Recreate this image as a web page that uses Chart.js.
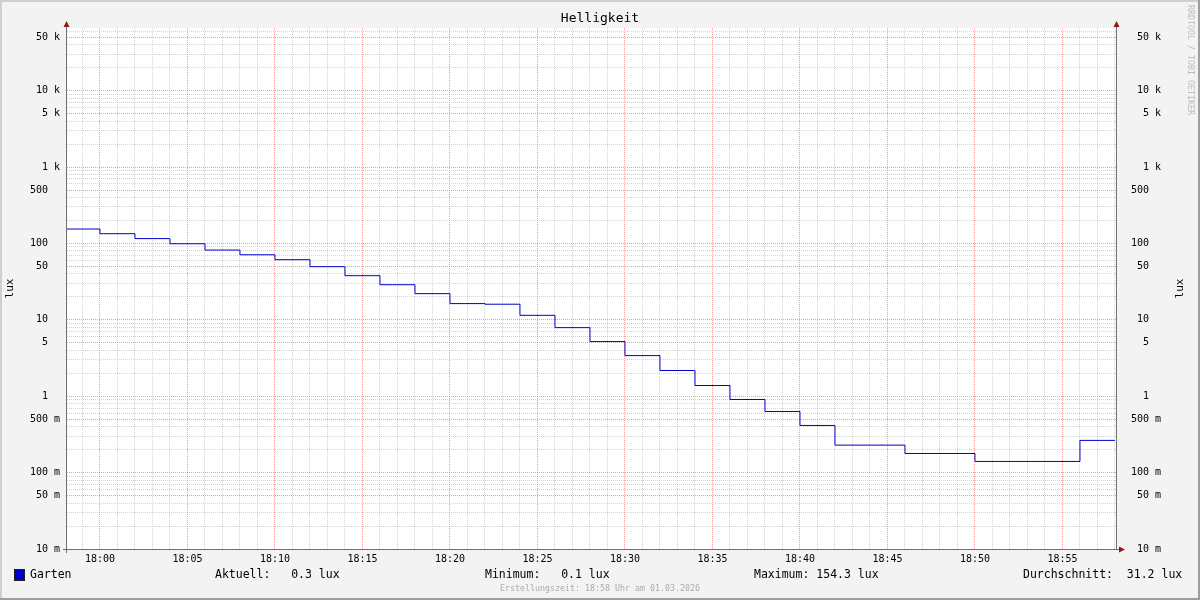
<!DOCTYPE html>
<html lang="de">
<head>
  <meta charset="UTF-8" />
  <title>Helligkeit</title>
  <script src="https://cdn.jsdelivr.net/npm/chart.js"></script>
  <style>
    html, body { margin: 0; padding: 0; background: #f3f3f3; }
    #wrap { width: 1200px; height: 600px; }
  </style>
</head>
<body>
  <div id="wrap"><canvas id="chart" width="1200" height="600"></canvas></div>

  <script>
    // Messwerte (alle 2 Minuten), letzter Wert wiederholt fuer das Stufenende
    const stepTimes = ['17:58', '18:00', '18:02', '18:04', '18:06', '18:08', '18:10', '18:12',
      '18:14', '18:16', '18:18', '18:20', '18:22', '18:24', '18:26', '18:28', '18:30', '18:32',
      '18:34', '18:36', '18:38', '18:40', '18:42', '18:44', '18:46', '18:48', '18:50', '18:52',
      '18:54', '18:56', '18:58'];
    const luxValues = [154.3, 134, 115.6, 99, 81.8, 71, 61.2, 49.6,
      37.8, 28.8, 22, 16.3, 16.0, 11.45, 7.9, 5.19, 3.4, 2.17,
      1.38, 0.906, 0.631, 0.414, 0.229, 0.229, 0.178, 0.178, 0.14, 0.14,
      0.14, 0.264, 0.264];

    const xTickLabels = ['18:00', '18:05', '18:10', '18:15', '18:20', '18:25',
      '18:30', '18:35', '18:40', '18:45', '18:50', '18:55'];
    const yTickValues = [0.01, 0.05, 0.1, 0.5, 1, 5, 10, 50, 100, 500, 1000, 5000, 10000, 50000];
    const yTickLabels = ['10 m', '50 m', '100 m', '500 m', '1', '5', '10', '50', '100', '500',
      '1 k', '5 k', '10 k', '50 k'];

    const seriesName = 'Garten';
    const statNames = ['Aktuell:', 'Minimum:', 'Maximum:', 'Durchschnitt:'];
    const statValues = [0.3, 0.1, 154.3, 31.2];
    const unit = 'lux';

    const windowStart = '17:58:07';
    const windowEnd = '18:58:07';
    const yMin = 0.01;
    const yMax = 66000;

    const MONO = "'DejaVu Sans Mono', 'Liberation Mono', monospace";
    const LINE_COLOR = '#0000cc';
    const MINOR_GRID = 'rgba(140,140,140,0.38)';
    const MAJOR_GRID = 'rgba(222,80,80,0.55)';
    const AXIS_COLOR = '#707070';
    const ARROW_COLOR = '#8b1a1a';

    const toMin = s => {
      const p = s.split(':').map(Number);
      return p[0] * 60 + p[1] + (p[2] || 0) / 60;
    };
    const fmtMin = v => {
      const h = Math.floor(v / 60), m = Math.round(v - h * 60);
      return String(h).padStart(2, '0') + ':' + String(m).padStart(2, '0');
    };
    const yLabelIndex = v => yTickValues.findIndex(t => Math.abs(v / t - 1) < 1e-6);
    const yLabel = v => {
      const i = yLabelIndex(v);
      if (i < 0) return '';
      const s = yTickLabels[i];
      return (s.includes(' ') ? s : s + '  ').padStart(5);
    };

    // Gitter: 1..9 je Dekade, Beschriftung bei 1 und 5
    function logTicks(scale) {
      const ticks = [];
      for (let e = -2; e <= 4; e++) {
        for (let m = 1; m <= 9; m++) {
          const v = m * Math.pow(10, e);
          if (v >= yMin * 0.999 && v <= yMax) ticks.push({ value: v });
        }
      }
      scale.ticks = ticks;
    }
    function minuteTicks(scale) {
      const ticks = [];
      for (let v = Math.ceil(toMin(windowStart)); v <= Math.floor(toMin(windowEnd)); v++) {
        ticks.push({ value: v });
      }
      scale.ticks = ticks;
    }
    const yGridColor = c => (c.tick && yLabelIndex(c.tick.value) >= 0 ? MAJOR_GRID : MINOR_GRID);
    const xGridColor = c => (c.tick && xTickLabels.includes(fmtMin(c.tick.value)) ? MAJOR_GRID : MINOR_GRID);

    const rrdFrame = {
      id: 'rrdFrame',
      beforeDraw(chart) {
        const { ctx, chartArea: a, width, height } = chart;
        ctx.save();
        ctx.fillStyle = '#f3f3f3';
        ctx.fillRect(0, 0, width, height);
        ctx.fillStyle = '#cfcfcf';
        ctx.fillRect(0, 0, width, 2);
        ctx.fillRect(0, 0, 2, height);
        ctx.fillStyle = '#9e9e9e';
        ctx.fillRect(0, height - 2, width, 2);
        ctx.fillRect(width - 2, 0, 2, height);
        ctx.fillStyle = '#ffffff';
        ctx.fillRect(a.left, a.top, a.right - a.left, a.bottom - a.top);
        ctx.restore();
      },
      afterDraw(chart) {
        const { ctx, chartArea: a, width } = chart;
        ctx.save();
        // Achsen
        ctx.strokeStyle = AXIS_COLOR;
        ctx.lineWidth = 1;
        ctx.beginPath();
        ctx.moveTo(a.left - 0.5, a.top - 1);
        ctx.lineTo(a.left - 0.5, a.bottom + 4);
        ctx.moveTo(a.right - 0.5, a.top - 1);
        ctx.lineTo(a.right - 0.5, a.bottom + 1);
        ctx.moveTo(a.left - 4, a.bottom + 0.5);
        ctx.lineTo(a.right + 2, a.bottom + 0.5);
        ctx.stroke();
        // Pfeile
        ctx.fillStyle = ARROW_COLOR;
        [a.left - 0.5, a.right - 0.5].forEach(x => {
          ctx.beginPath();
          ctx.moveTo(x, a.top - 7);
          ctx.lineTo(x - 3, a.top - 1);
          ctx.lineTo(x + 3, a.top - 1);
          ctx.closePath();
          ctx.fill();
        });
        ctx.beginPath();
        ctx.moveTo(a.right + 8, a.bottom + 0.5);
        ctx.lineTo(a.right + 2, a.bottom - 2.5);
        ctx.lineTo(a.right + 2, a.bottom + 3.5);
        ctx.closePath();
        ctx.fill();

        // Titel
        ctx.fillStyle = '#000';
        ctx.font = `13px ${MONO}`;
        ctx.textAlign = 'center';
        ctx.textBaseline = 'middle';
        ctx.fillText('Helligkeit', width / 2, 19);

        // Achsentitel
        const midY = (a.top + a.bottom) / 2;
        ctx.font = `11px ${MONO}`;
        [10, 1180].forEach(x => {
          ctx.save();
          ctx.translate(x, midY);
          ctx.rotate(-Math.PI / 2);
          ctx.fillText(unit, 0, 0);
          ctx.restore();
        });

        // Wasserzeichen
        ctx.save();
        ctx.fillStyle = '#bdbdbd';
        ctx.font = `8.3px ${MONO}`;
        ctx.translate(1190, 60);
        ctx.rotate(Math.PI / 2);
        ctx.fillText('RRDTOOL / TOBI OETIKER', 0, 0);
        ctx.restore();

        // Legende
        ctx.fillStyle = LINE_COLOR;
        ctx.fillRect(15, 570, 9, 10);
        ctx.strokeStyle = '#202020';
        ctx.strokeRect(14.5, 569.5, 10, 11);
        ctx.fillStyle = '#000';
        ctx.font = `11.5px ${MONO}`;
        ctx.textAlign = 'left';
        ctx.fillText(seriesName, 30, 575);
        const statX = [215, 485, 754, 1023];
        statNames.forEach((n, i) => {
          ctx.fillText(n + statValues[i].toFixed(1).padStart(6) + ' ' + unit, statX[i], 575);
        });

        ctx.fillStyle = '#ababab';
        ctx.font = `8.3px ${MONO}`;
        ctx.textAlign = 'center';
        ctx.fillText('Erstellungszeit: 18:58 Uhr am 01.03.2026', width / 2, 589);
        ctx.restore();
      }
    };

    const yAxisBase = {
      type: 'logarithmic',
      min: yMin,
      max: yMax,
      afterBuildTicks: logTicks,
      border: { display: false, dash: [1, 1] },
      ticks: {
        autoSkip: false,
        font: { family: MONO, size: 10 },
        color: '#000',
        callback: v => yLabel(v)
      }
    };

    const ctx = document.getElementById('chart').getContext('2d');
    new Chart(ctx, {
      type: 'line',
      data: {
        datasets: [{
          label: seriesName,
          data: stepTimes.map((t, i) => ({ x: toMin(t), y: luxValues[i] })),
          stepped: true,
          borderColor: LINE_COLOR,
          borderWidth: 1,
          pointRadius: 0,
          fill: false,
          yAxisID: 'y',
          clip: 0
        }]
      },
      options: {
        responsive: false,
        animation: false,
        devicePixelRatio: 1,
        layout: { padding: { top: 28, left: 0, right: 0, bottom: 0 } },
        plugins: { legend: { display: false }, tooltip: { enabled: false } },
        scales: {
          x: {
            type: 'linear',
            min: toMin(windowStart),
            max: toMin(windowEnd),
            afterBuildTicks: minuteTicks,
            afterFit: s => { s.height = 51; },
            border: { display: false, dash: [1, 1] },
            grid: { color: xGridColor, lineWidth: 1, drawTicks: false },
            ticks: {
              autoSkip: false,
              maxRotation: 0,
              padding: 4,
              font: { family: MONO, size: 10 },
              color: '#000',
              callback: v => (xTickLabels.includes(fmtMin(v)) ? fmtMin(v) : '')
            }
          },
          y: {
            ...yAxisBase,
            position: 'left',
            afterFit: s => { s.width = 67; },
            grid: { color: yGridColor, lineWidth: 1, drawTicks: false },
            ticks: { ...yAxisBase.ticks, padding: 7 }
          },
          y2: {
            ...yAxisBase,
            position: 'right',
            afterFit: s => { s.width = 83; },
            grid: { drawOnChartArea: false, drawTicks: false },
            ticks: { ...yAxisBase.ticks, padding: 14 }
          }
        }
      },
      plugins: [rrdFrame]
    });
  </script>
</body>
</html>
